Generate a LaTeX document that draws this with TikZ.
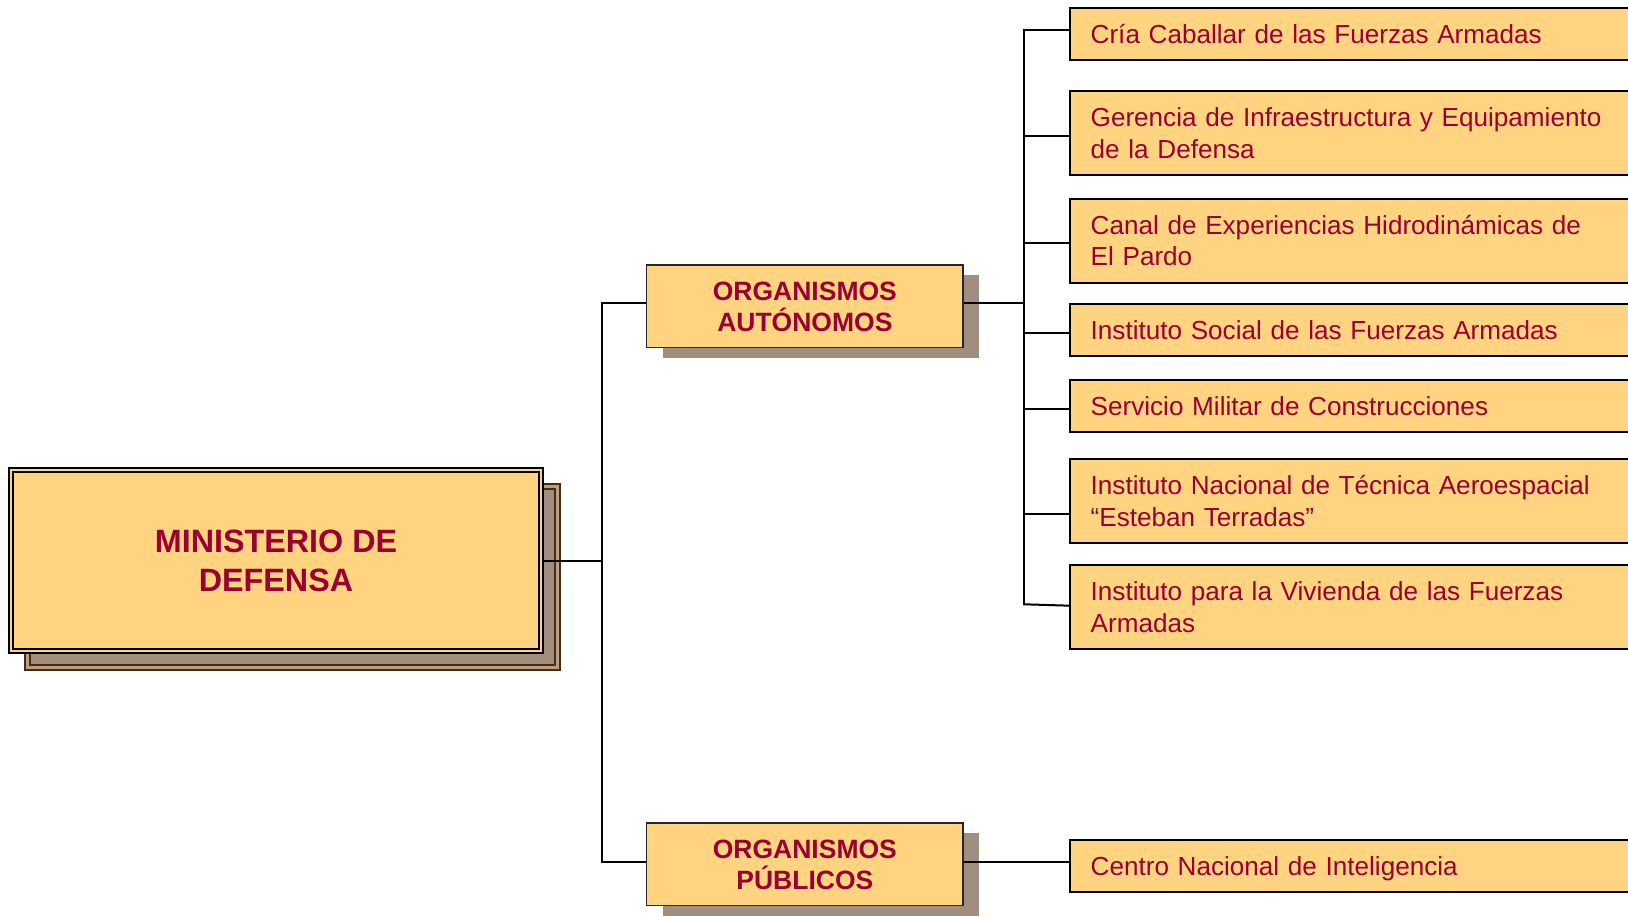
\documentclass[tikz,border=0pt]{standalone}
\usepackage{fontspec}
\setmainfont{Liberation Sans}
\usetikzlibrary{backgrounds}
\definecolor{boxfill}{HTML}{FFD480}
\definecolor{txtred}{HTML}{990033}
\definecolor{shade}{HTML}{A08F7E}
\definecolor{shadeline}{HTML}{4B2A0F}
\definecolor{shadegap}{HTML}{B8A088}
\begin{document}
\begin{tikzpicture}[x=1pt,y=-1pt,
  every node/.style={outer sep=0pt},
  unit/.style={draw=black, line width=1.8pt, fill=boxfill, text=txtred, anchor=north west,
    inner xsep=20.5pt, inner ysep=0pt, text width=560pt, align=left,
    font=\fontsize{26.1}{31.7}\selectfont},
  single/.style={unit, minimum height=52pt},
  twoline/.style={unit, minimum height=84pt},
  group/.style={draw=black!85, line width=1.4pt, fill=boxfill, text=txtred, anchor=north west,
    minimum width=316.3pt, minimum height=82.6pt, inner sep=0pt, align=center, text depth=-5pt,
    font=\bfseries\fontsize{26.5}{31}\selectfont},
  top/.style={draw=black, line width=2pt, double=boxfill, double distance=2.5pt, fill=boxfill,
    text=txtred, anchor=north west, minimum width=530pt, minimum height=181pt, inner sep=0pt,
    align=center, text depth=-4pt, font=\bfseries\fontsize{32.3}{38.8}\selectfont},
  link/.style={line width=2pt, draw=black, line cap=rect},
  groupshade/.style={fill=shade}]
\useasboundingbox (0,0) rectangle (1628,916);
\clip (0,0) rectangle (1628,916);

% main box
\node[top] (main) at (11,470) {MINISTERIO DE\\DEFENSA};

% groups
\node[group] (oa) at (646.7,265) {ORGANISMOS\\AUTÓNOMOS};
\node[group] (op) at (646.7,823) {ORGANISMOS\\PÚBLICOS};

% units
\node[single]  (b1) at (1070.2,7.6)   {Cría Caballar de las Fuerzas Armadas};
\node[twoline] (b2) at (1070.2,90.9)  {Gerencia de Infraestructura y Equipamiento\\de la Defensa};
\node[twoline] (b3) at (1070.2,198.6) {Canal de Experiencias Hidrodinámicas de\\El Pardo};
\node[single]  (b4) at (1070.2,304.2) {Instituto Social de las Fuerzas Armadas};
\node[single]  (b5) at (1070.2,379.9) {Servicio Militar de Construcciones};
\node[twoline] (b6) at (1070.2,459.2) {Instituto Nacional de Técnica Aeroespacial\\“Esteban Terradas”};
\node[twoline] (b7) at (1070.2,565.2) {Instituto para la Vivienda de las Fuerzas\\Armadas};
\node[single, text depth=0pt] (b8) at (1070.2,840.2) {Centro Nacional de Inteligencia};

% junction points
\coordinate (ja) at (601.7,303);
\coordinate (jb) at (601.7,861.7);
\coordinate (k0) at (1024.3,303);
\coordinate (k1) at (1024.3,29.7);
\coordinate (k2) at (1024.3,136.3);
\coordinate (k3) at (1024.3,243);
\coordinate (k4) at (1024.3,333.3);
\coordinate (k5) at (1024.3,409);
\coordinate (k6) at (1024.3,514);
\coordinate (k7) at (1024.3,604.3);

\begin{scope}[on background layer]
  % shadows
  \draw[draw=shadeline, line width=2pt, double=shadegap, double distance=2.5pt, fill=shade]
    ([shift={(16.5,16.5)}]main.north west) rectangle ([shift={(16.5,16.5)}]main.south east);
  \fill[groupshade] ([shift={(16.3,10.4)}]oa.north west) rectangle ([shift={(16.3,10.4)}]oa.south east);
  \fill[groupshade] ([shift={(16.3,10.4)}]op.north west) rectangle ([shift={(16.3,10.4)}]op.south east);
  % connectors
  \draw[link] (main.east) -- (main.east -| ja);
  \draw[link] (oa.west |- ja) -- (ja) -- (jb) -- (op.west |- jb);
  \draw[link] (oa.east |- k0) -- (k0);
  \draw[link] (k1) -- (k7);
  \foreach \i in {1,...,6} {\draw[link] (k\i) -- (k\i -| b\i.west);}
  \draw[link] (k7) -- ([yshift=-1.4pt]k7 -| b7.west);
  \draw[link] (op.east |- jb) -- (jb -| b8.west);
\end{scope}
\end{tikzpicture}
\end{document}
